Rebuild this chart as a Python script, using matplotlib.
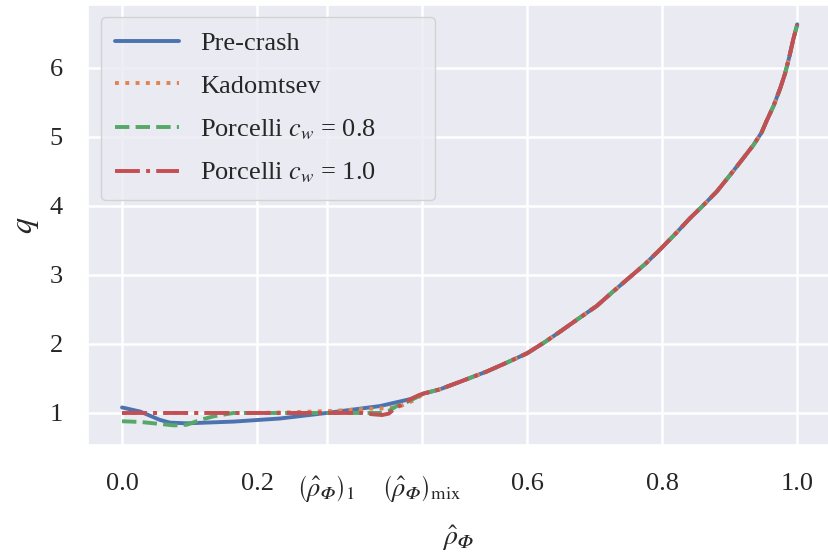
import matplotlib
matplotlib.use("Agg")
import matplotlib.pyplot as plt
import numpy as np
import seaborn as sns

sns.set_theme(style="darkgrid")
plt.rcParams['font.family'] = ['Liberation Serif', 'DejaVu Serif']
plt.rcParams['mathtext.fontset'] = 'stix'

# q profile; outer region is common to all models
rho_outer = [0.446, 0.47, 0.5, 0.54, 0.57, 0.6, 0.625, 0.649, 0.675, 0.703,
             0.725, 0.75, 0.775, 0.797, 0.82, 0.841, 0.86, 0.881, 0.9, 0.92,
             0.935, 0.947, 0.955, 0.965, 0.975, 0.982, 0.988, 0.994, 1.0]
q_outer = [1.28, 1.34, 1.45, 1.60, 1.73, 1.865, 2.02, 2.18, 2.36, 2.55,
           2.74, 2.95, 3.16, 3.37, 3.60, 3.82, 4.00, 4.21, 4.44, 4.69,
           4.88, 5.06, 5.24, 5.45, 5.71, 5.92, 6.15, 6.41, 6.63]

rho_pre = [0.0, 0.027, 0.056, 0.071, 0.096, 0.165, 0.234, 0.303, 0.382, 0.431]
q_pre = [1.08, 1.02, 0.90, 0.86, 0.85, 0.875, 0.92, 1.0, 1.10, 1.21]

rho_kad = [0.0, 0.1, 0.2, 0.25, 0.313, 0.362, 0.392, 0.41, 0.422, 0.436]
q_kad = [1.0, 1.0, 1.0, 1.01, 1.03, 1.06, 1.07, 1.09, 1.14, 1.20]

rho_p08 = [0.0, 0.027, 0.077, 0.096, 0.116, 0.135, 0.165, 0.25, 0.35, 0.38,
           0.395, 0.407, 0.422, 0.435]
q_p08 = [0.88, 0.87, 0.82, 0.83, 0.90, 0.95, 1.0, 1.0, 1.0, 1.0,
         1.03, 1.10, 1.16, 1.22]

rho_p10 = [0.0, 0.1, 0.2, 0.3, 0.357, 0.372, 0.385, 0.395, 0.401, 0.417,
           0.429, 0.44]
q_p10 = [1.0, 1.0, 1.0, 1.0, 1.0, 0.98, 0.97, 0.99, 1.04, 1.14, 1.21, 1.26]

rho_1 = 0.303
rho_mix = 0.444

fig = plt.figure(figsize=(8.29, 5.53), dpi=100)
ax = fig.add_axes([88 / 829, 1 - 445 / 553, 741 / 829, 440 / 553])

lw = 2.8
ax.plot(rho_pre + rho_outer, q_pre + q_outer, '-', color='#4C72B0', lw=lw,
        label='Pre-crash')
ax.plot(rho_kad + rho_outer, q_kad + q_outer, ':', color='#DD8452', lw=lw,
        label='Kadomtsev')
ax.plot(rho_p08 + rho_outer, q_p08 + q_outer, '--', color='#55A868', lw=lw,
        label=r'Porcelli $c_w$ = 0.8')
ax.plot(rho_p10 + rho_outer, q_p10 + q_outer, '-.', color='#C44E52', lw=lw,
        label=r'Porcelli $c_w$ = 1.0')

ax.set_xlim(-0.0504, 1.047)
ax.set_ylim(0.536, 6.91)

rho_sym = r'\hat{\rho}_{𝛷}'
ax.set_xticks([0.0, 0.2, rho_1, rho_mix, 0.6, 0.8, 1.0])
ax.set_xticklabels(['0.0', '0.2',
                    r'$\left(' + rho_sym + r'\right)_1$',
                    r'$\left(' + rho_sym + r'\right)_{\mathrm{mix}}$',
                    '0.6', '0.8', '1.0'])
ax.set_yticks([1, 2, 3, 4, 5, 6])
ax.tick_params(labelsize=19, colors='#262626')
ax.tick_params(axis='x', pad=14)
ax.tick_params(axis='y', pad=12)
ax.grid(True, color='white', lw=1.8)

ax.set_xlabel('$' + rho_sym + '$', fontsize=20, labelpad=14)
ax.set_ylabel(r'$q$', fontsize=23, labelpad=6)

ax.legend(loc='upper left', bbox_to_anchor=(0.0175, 0.0, 0.4508, 0.9727),
          mode='expand', borderaxespad=0.0, fontsize=19, handlelength=2.4,
          labelspacing=0.73, borderpad=0.55)

fig.savefig('out.png', dpi=100)
